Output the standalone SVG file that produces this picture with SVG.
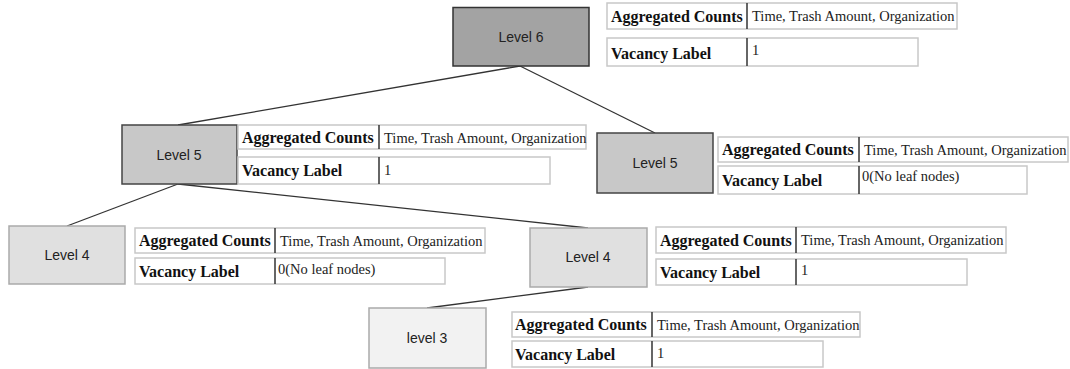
<svg xmlns="http://www.w3.org/2000/svg" width="1070" height="369" viewBox="0 0 1070 369">
<style>
.lbl{font-family:"Liberation Sans",Arial,sans-serif;font-size:14px;fill:#222;text-anchor:middle}
.cell{fill:#fff;stroke:#c8c8c8;stroke-width:1.5}
.div{stroke:#333;stroke-width:1.5}
.k{font-family:"Liberation Serif","Times New Roman",serif;font-size:16px;font-weight:bold;fill:#111}
.v{font-family:"Liberation Serif","Times New Roman",serif;font-size:14.5px;fill:#222}
.edge{stroke:#333;stroke-width:1.3;fill:none}
</style>
<rect width="1070" height="369" fill="#fff"/>
<g id="connectors">
<line class="edge" x1="520" y1="66" x2="178" y2="125"/>
<line class="edge" x1="520" y1="66" x2="655" y2="133"/>
<line class="edge" x1="178" y1="184" x2="67" y2="226"/>
<line class="edge" x1="178" y1="184" x2="588" y2="228"/>
<line class="edge" x1="588" y1="287" x2="427" y2="308"/>
</g>
<g id="n-level6">
<rect x="453" y="7.5" width="136" height="58.5" fill="#a3a3a3" stroke="#333" stroke-width="1.5"/>
<text class="lbl" x="521" y="42">Level 6</text>
<rect class="cell" x="607" y="3" width="350" height="26"/><line class="div" x1="747" y1="3" x2="747" y2="29"/>
<text class="k" x="611" y="22">Aggregated Counts</text><text class="v" x="752" y="21">Time, Trash Amount, Organization</text>
<rect class="cell" x="607" y="38" width="311" height="28"/><line class="div" x1="747" y1="38" x2="747" y2="66"/>
<text class="k" x="611" y="59">Vacancy Label</text><text class="v" x="752" y="55">1</text>
</g>
<g id="n-level5a">
<rect x="122" y="125" width="115" height="59" fill="#c8c8c8" stroke="#444" stroke-width="1.5"/>
<text class="lbl" x="179" y="160">Level 5</text>
<rect class="cell" x="238" y="125" width="348" height="24"/><line class="div" x1="379" y1="125" x2="379" y2="149"/>
<text class="k" x="242" y="143">Aggregated Counts</text><text class="v" x="384" y="143">Time, Trash Amount, Organization</text>
<rect class="cell" x="238" y="157" width="312" height="27"/><line class="div" x1="379" y1="157" x2="379" y2="184"/>
<text class="k" x="242" y="176">Vacancy Label</text><text class="v" x="384" y="175">1</text>
</g>
<g id="n-level5b">
<rect x="597" y="133" width="116" height="60" fill="#c8c8c8" stroke="#444" stroke-width="1.5"/>
<text class="lbl" x="655" y="168">Level 5</text>
<rect class="cell" x="718" y="137" width="350" height="25"/><line class="div" x1="859" y1="137" x2="859" y2="162"/>
<text class="k" x="722" y="155">Aggregated Counts</text><text class="v" x="864" y="155">Time, Trash Amount, Organization</text>
<rect class="cell" x="718" y="166" width="309" height="28"/><line class="div" x1="859" y1="166" x2="859" y2="194"/>
<text class="k" x="722" y="186">Vacancy Label</text><text class="v" x="862" y="181">0(No leaf nodes)</text>
</g>
<g id="n-level4a">
<rect x="9" y="226" width="116" height="58" fill="#e0e0e0" stroke="#aaa" stroke-width="1.5"/>
<text class="lbl" x="67" y="260">Level 4</text>
<rect class="cell" x="135" y="228" width="350" height="25"/><line class="div" x1="275" y1="228" x2="275" y2="253"/>
<text class="k" x="139" y="246">Aggregated Counts</text><text class="v" x="280" y="246">Time, Trash Amount, Organization</text>
<rect class="cell" x="135" y="258" width="310" height="26"/><line class="div" x1="275" y1="258" x2="275" y2="284"/>
<text class="k" x="139" y="277">Vacancy Label</text><text class="v" x="278" y="274">0(No leaf nodes)</text>
</g>
<g id="n-level4b">
<rect x="530" y="228" width="117" height="59" fill="#e0e0e0" stroke="#aaa" stroke-width="1.5"/>
<text class="lbl" x="588" y="262">Level 4</text>
<rect class="cell" x="656" y="227" width="350" height="26"/><line class="div" x1="796" y1="227" x2="796" y2="253"/>
<text class="k" x="660" y="246">Aggregated Counts</text><text class="v" x="801" y="245">Time, Trash Amount, Organization</text>
<rect class="cell" x="656" y="259" width="311" height="26"/><line class="div" x1="796" y1="259" x2="796" y2="285"/>
<text class="k" x="660" y="278">Vacancy Label</text><text class="v" x="801" y="275">1</text>
</g>
<g id="n-level3">
<rect x="369" y="308" width="117" height="60" fill="#f2f2f2" stroke="#aaa" stroke-width="1.5"/>
<text class="lbl" x="427" y="343">level 3</text>
<rect class="cell" x="512" y="312" width="348" height="25"/><line class="div" x1="652" y1="312" x2="652" y2="337"/>
<text class="k" x="515" y="330">Aggregated Counts</text><text class="v" x="657" y="330">Time, Trash Amount, Organization</text>
<rect class="cell" x="512" y="341" width="311" height="26"/><line class="div" x1="652" y1="341" x2="652" y2="367"/>
<text class="k" x="515" y="360">Vacancy Label</text><text class="v" x="657" y="358">1</text>
</g>
</svg>
